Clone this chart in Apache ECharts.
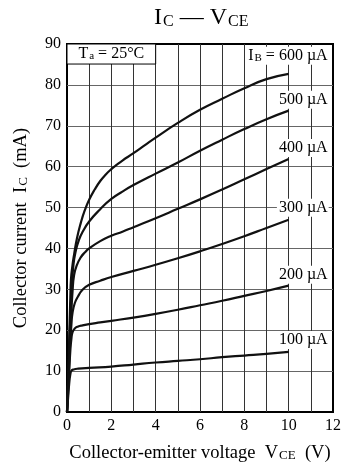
<!DOCTYPE html>
<html><head><meta charset="utf-8">
<script src="https://cdn.jsdelivr.net/npm/echarts@6/dist/echarts.min.js"></script>
<style>html,body{margin:0;padding:0;background:#fff}#c{width:344px;height:468px}</style>
</head><body><div id="c"></div>
<script>
// ---- data ----
const xMin = 0, xMax = 12, xStep = 1;
const yMin = 0, yMax = 90, yStep = 10;
const xTickLabels = [0, 2, 4, 6, 8, 10, 12];

const ib600 = [[0,0],[0.05,8],[0.1,18],[0.15,28],[0.18,32.5],[0.25,36],[0.32,38.5],[0.45,42.5],[0.62,46.2],[0.8,49.3],[1,51.9],[1.25,54.4],[1.5,56.5],[1.75,58.1],[2,59.4],[2.25,60.5],[2.5,61.5],[3,63.3],[3.5,65.2],[4,67.1],[5,70.7],[6,73.9],[7,76.6],[8,79.2],[9,81.4],[10,82.7]];
const ib500 = [[0,0],[0.05,7.5],[0.1,15],[0.15,23],[0.2,29],[0.29,36],[0.4,39.5],[0.54,42.1],[0.7,44],[1,46.6],[1.5,49.6],[2,52.1],[2.5,53.9],[3,55.5],[4,58.3],[5,61],[6,63.9],[7,66.6],[8,69.2],[9,71.6],[10,73.7]];
const ib400 = [[0,0],[0.05,7],[0.1,14],[0.15,20],[0.2,25],[0.25,29.5],[0.32,33.5],[0.45,36],[0.62,37.8],[0.8,39],[1,40],[1.5,41.8],[2,43.1],[2.5,44.1],[3,45.2],[4,47.4],[5,49.7],[6,52],[7,54.4],[8,56.9],[9,59.4],[10,61.9]];
const ib300 = [[0,0],[0.05,6],[0.1,12],[0.15,17.5],[0.2,21.5],[0.25,24.3],[0.35,26.6],[0.5,28.3],[0.7,29.9],[1,31.1],[1.5,32.1],[2,33],[3,34.5],[4,36],[5,37.6],[6,39.3],[7,41.1],[8,43],[9,45],[10,47]];
const ib200 = [[0,0],[0.05,5],[0.1,10],[0.15,15],[0.2,18],[0.25,19.5],[0.35,20.4],[0.5,20.9],[0.7,21.2],[1,21.5],[1.5,21.9],[2,22.3],[3,23.1],[4,24],[5,25],[6,26.1],[7,27.2],[8,28.4],[9,29.6],[10,30.9]];
const ib100 = [[0,0],[0.05,3.5],[0.1,7],[0.15,9.2],[0.2,10.1],[0.3,10.4],[0.5,10.6],[1,10.8],[2,11.1],[3,11.6],[4,12.1],[5,12.5],[6,12.9],[7,13.4],[8,13.8],[9,14.2],[10,14.7]];

const curves = [ib600, ib500, ib400, ib300, ib200, ib100];
const curveLabels = ['{m|I}{s|B}{m| = 600 µA}', '{m|500 µA}', '{m|400 µA}', '{m|300 µA}', '{m|200 µA}', '{m|100 µA}'];
const ambientBox = { x0: 0, x1: 4, y0: 85.1, y1: 90, text: '{m|T}{s|a}{m| = 25°C}' };

const titleText = '{m|I}{s|C}{m| — V}{s|CE}';
const xName = '{m|Collector-emitter voltage  V}{s|CE}{m|  (V)}';
const yName = '{m|Collector current  I}{s|C}{m|  (mA)}';

// ---- style ----
const FONT = "'Liberation Serif', 'Times New Roman', serif";
function rich(size, subSize, drop) {
  return {
    m: { fontFamily: FONT, fontSize: size, fontWeight: 'normal', lineHeight: size, verticalAlign: 'top', color: '#000' },
    s: { fontFamily: FONT, fontSize: subSize, fontWeight: 'normal', lineHeight: subSize, verticalAlign: 'bottom', padding: [drop, 0, 0, 1], color: '#000' }
  };
}
const labelDy = [-18, -11, -11, -12, -11, -12];

const chart = echarts.init(document.getElementById('c'), null, { renderer: 'canvas' });

const series = curves.map((d, i) => ({
  type: 'line',
  data: d,
  showSymbol: false,
  smooth: 0.5,
  silent: true,
  lineStyle: { color: '#111', width: 2.2 },
  z: 3,
  endLabel: {
    show: true,
    formatter: curveLabels[i],
    align: 'right',
    verticalAlign: 'middle',
    distance: 0,
    offset: [40, labelDy[i]],
    backgroundColor: '#fff',
    padding: [1, 1, 1, 2],
    rich: rich(16, 11, 7)
  }
}));

series[0].markArea = {
  silent: true,
  itemStyle: { color: '#fff', borderColor: '#000', borderWidth: 1, opacity: 1 },
  label: { show: true, position: 'inside', formatter: ambientBox.text, rich: rich(16, 11, 7) },
  data: [[{ coord: [ambientBox.x0, ambientBox.y1] }, { coord: [ambientBox.x1, ambientBox.y0] }]]
};

chart.setOption({
  animation: false,
  backgroundColor: '#fff',
  textStyle: { fontFamily: FONT, color: '#000' },
  title: {
    text: titleText,
    left: 149, top: 1,
    textStyle: { fontWeight: 'normal', rich: rich(24, 16, 10) }
  },
  grid: {
    left: 67, right: 5, top: 44, bottom: 56,
    show: true, borderColor: '#000', borderWidth: 2, backgroundColor: 'transparent'
  },
  xAxis: {
    type: 'value', min: xMin, max: xMax, interval: xStep,
    axisLine: { show: false }, axisTick: { show: false },
    axisLabel: {
      margin: 6, color: '#000', fontFamily: FONT, fontSize: 16,
      formatter: v => (xTickLabels.indexOf(v) >= 0 ? String(v) : '')
    },
    splitLine: { show: true, showMinLine: false, showMaxLine: false, lineStyle: { color: '#333', width: 1 } },
    name: xName, nameLocation: 'middle', nameGap: 32,
    nameTextStyle: { rich: rich(18.5, 13, 8) }
  },
  yAxis: {
    type: 'value', min: yMin, max: yMax, interval: yStep,
    axisLine: { show: false }, axisTick: { show: false },
    axisLabel: { margin: 6, color: '#000', fontFamily: FONT, fontSize: 16 },
    splitLine: { show: true, showMinLine: false, showMaxLine: false, lineStyle: { color: '#666', width: 1 } },
    name: yName, nameLocation: 'middle', nameGap: 37, nameRotate: 90,
    nameTextStyle: { rich: rich(18.5, 13, 8) }
  },
  series: series
});
</script>
</body></html>
